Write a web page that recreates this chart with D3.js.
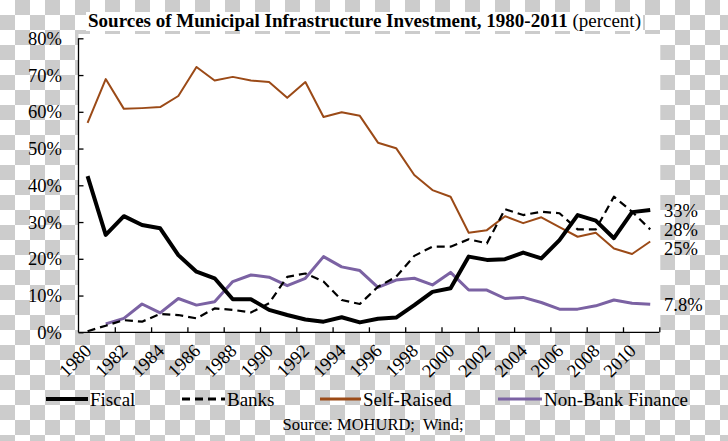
<!DOCTYPE html>
<html><head><meta charset="utf-8">
<script src="https://cdn.jsdelivr.net/npm/d3@7"></script>
<style>body{margin:0;background:#fff}svg{display:block}text{font-family:"Liberation Serif","Times New Roman",serif;fill:#000}</style>
</head><body><div id="chart"></div>
<script>
const years = d3.range(1980, 2012);
const fiscal = [42.5,26.5,31.6,29.2,28.3,21.0,16.5,14.7,9.0,9.0,6.1,4.7,3.5,2.9,4.1,2.7,3.7,4.0,7.4,11.0,12.0,20.6,19.7,19.9,21.7,20.1,25.1,31.9,30.4,25.6,32.7,33.3];
const banks = [0.3,1.8,3.3,2.9,5.0,4.7,3.8,6.5,6.1,5.4,7.9,15.1,16.0,13.8,8.8,7.7,12.4,15.1,20.8,23.3,23.3,25.3,24.2,33.5,31.9,32.8,32.4,28.0,28.0,36.9,32.8,28.0];
const selfRaised = [57.0,68.9,60.8,61.0,61.3,64.3,72.2,68.5,69.5,68.5,68.1,63.8,68.1,58.6,59.9,58.9,51.6,50.1,42.8,38.7,36.9,27.1,27.8,31.6,29.7,31.3,28.6,26.0,27.1,22.8,21.3,24.7];
const nonBank = [null,2.3,3.8,7.7,5.3,9.2,7.4,8.3,13.8,15.6,15.0,12.7,14.7,20.6,17.8,16.8,12.2,14.2,14.7,12.9,16.3,11.5,11.5,9.2,9.5,8.1,6.3,6.3,7.2,8.8,7.9,7.6];
const yTicks = [0,10,20,30,40,50,60,70,80];
const xLabelYears = d3.range(1980, 2011, 2);
const seriesNames = ["Fiscal","Banks","Self-Raised","Non-Bank Finance"];
const endLabels = ["33%","28%","25%","7.8%"];
const titleBold = "Sources of Municipal Infrastructure Investment, 1980-2011";
const titleNormal = " (percent)";
const sourceText = "Source: MOHURD;  Wind;";

const W = 728, H = 441;
const svg = d3.select("#chart").append("svg").attr("width", W).attr("height", H);

// checkerboard background
const defs = svg.append("defs");
const pat = defs.append("pattern").attr("id","chk").attr("width",30).attr("height",30).attr("patternUnits","userSpaceOnUse");
pat.append("rect").attr("width",30).attr("height",30).attr("fill","#fff");
pat.append("rect").attr("x",15).attr("y",0).attr("width",15).attr("height",15).attr("fill","#cccccc");
pat.append("rect").attr("x",0).attr("y",15).attr("width",15).attr("height",15).attr("fill","#cccccc");
svg.append("rect").attr("width",W).attr("height",H).attr("fill","url(#chk)");

const x0 = 78.5, x1 = 659.3, yBottom = 332.3, yTop = 38.3;
const x = d3.scaleBand().domain(years).range([x0, x1]).padding(0);
const xb = d3.scaleLinear().domain([1980, 2012]).range([x0, x1]);
const y = d3.scaleLinear().domain([0, 80]).range([yBottom, yTop]);

// white plot area
svg.append("rect").attr("x", x0).attr("y", 34).attr("width", x1 - x0 + 1).attr("height", yBottom - 34).attr("fill", "#fff");

// title
const tbg = svg.append("rect").attr("fill","#fff");
const title = svg.append("text").attr("x", 88).attr("y", 27).style("font-size","18.5px")
  .attr("textLength", 553).attr("lengthAdjust","spacingAndGlyphs");
title.append("tspan").style("font-weight","bold").text(titleBold);
title.append("tspan").text(titleNormal);
const tb = title.node().getBBox();
tbg.attr("x", tb.x - 2).attr("y", tb.y + 1).attr("width", tb.width + 4).attr("height", tb.height - 2);

// y axis
const yAxis = svg.append("g").attr("transform", `translate(${x0},0)`)
  .call(d3.axisLeft(y).tickValues(yTicks).tickSize(-5).tickFormat(""));
yAxis.select(".domain").attr("stroke","#000").attr("stroke-width",1.3).attr("d", `M0,${yBottom}V${yTop}`);
yAxis.selectAll(".tick line").attr("stroke","#000").attr("stroke-width",1.3);

const yl = svg.append("g");
yTicks.forEach(v => {
  yl.append("text").attr("x", 62).attr("y", y(v) + 6.5).attr("text-anchor","end").style("font-size","18.5px").text(v + "%");
});

// x axis
const xAxis = svg.append("g").attr("transform", `translate(0,${yBottom})`)
  .call(d3.axisBottom(xb).tickValues(d3.range(1982, 2013, 2)).tickSize(-5).tickFormat(""));
xAxis.select(".domain").attr("stroke","#000").attr("stroke-width",1.3).attr("d", `M${x0},0H${x1}`);
xAxis.selectAll(".tick line").attr("stroke","#000").attr("stroke-width",1.3);

svg.append("g").selectAll("text").data(xLabelYears).join("text")
  .attr("transform", d => `translate(${x(d) + x.bandwidth()/2 + 5},352) rotate(-45)`)
  .attr("text-anchor","end").style("font-size","18.5px").text(d => d);

// lines
const line = d3.line().defined(d => d != null).x((d, i) => x(years[i]) + x.bandwidth()/2).y(d => y(d));
const styles = [
  {data: fiscal, stroke:"#000", w:4, dash:null},
  {data: banks, stroke:"#000", w:2.2, dash:"8,5"},
  {data: selfRaised, stroke:"#9b4a17", w:2, dash:null},
  {data: nonBank, stroke:"#7b62a3", w:3, dash:null}
];
[3,2,1,0].forEach(k => {
  const s = styles[k];
  svg.append("path").datum(s.data).attr("d", line).attr("fill","none")
    .attr("stroke", s.stroke).attr("stroke-width", s.w).attr("stroke-linejoin","round")
    .attr("stroke-dasharray", s.dash);
});

// end labels
const endY = [217, 236, 255, 311];
endLabels.forEach((t, i) => {
  svg.append("text").attr("x", 664).attr("y", endY[i]).style("font-size","18.5px").text(t);
});

// legend
const leg = [
  {lx:46, tx:90},
  {lx:182, tx:227},
  {lx:320, tx:363},
  {lx:498, tx:544}
];
leg.forEach((l, i) => {
  const s = styles[i];
  svg.append("line").attr("x1", l.lx).attr("x2", l.tx - 2).attr("y1", 399).attr("y2", 399)
    .attr("stroke", s.stroke).attr("stroke-width", Math.max(s.w, 3)).attr("stroke-dasharray", s.dash);
  svg.append("text").attr("x", l.tx).attr("y", 406).style("font-size","19px").text(seriesNames[i]);
});

svg.append("text").attr("x", 373).attr("y", 430).attr("text-anchor","middle")
  .style("font-size","16.5px").style("white-space","pre").text(sourceText);
</script></body></html>
